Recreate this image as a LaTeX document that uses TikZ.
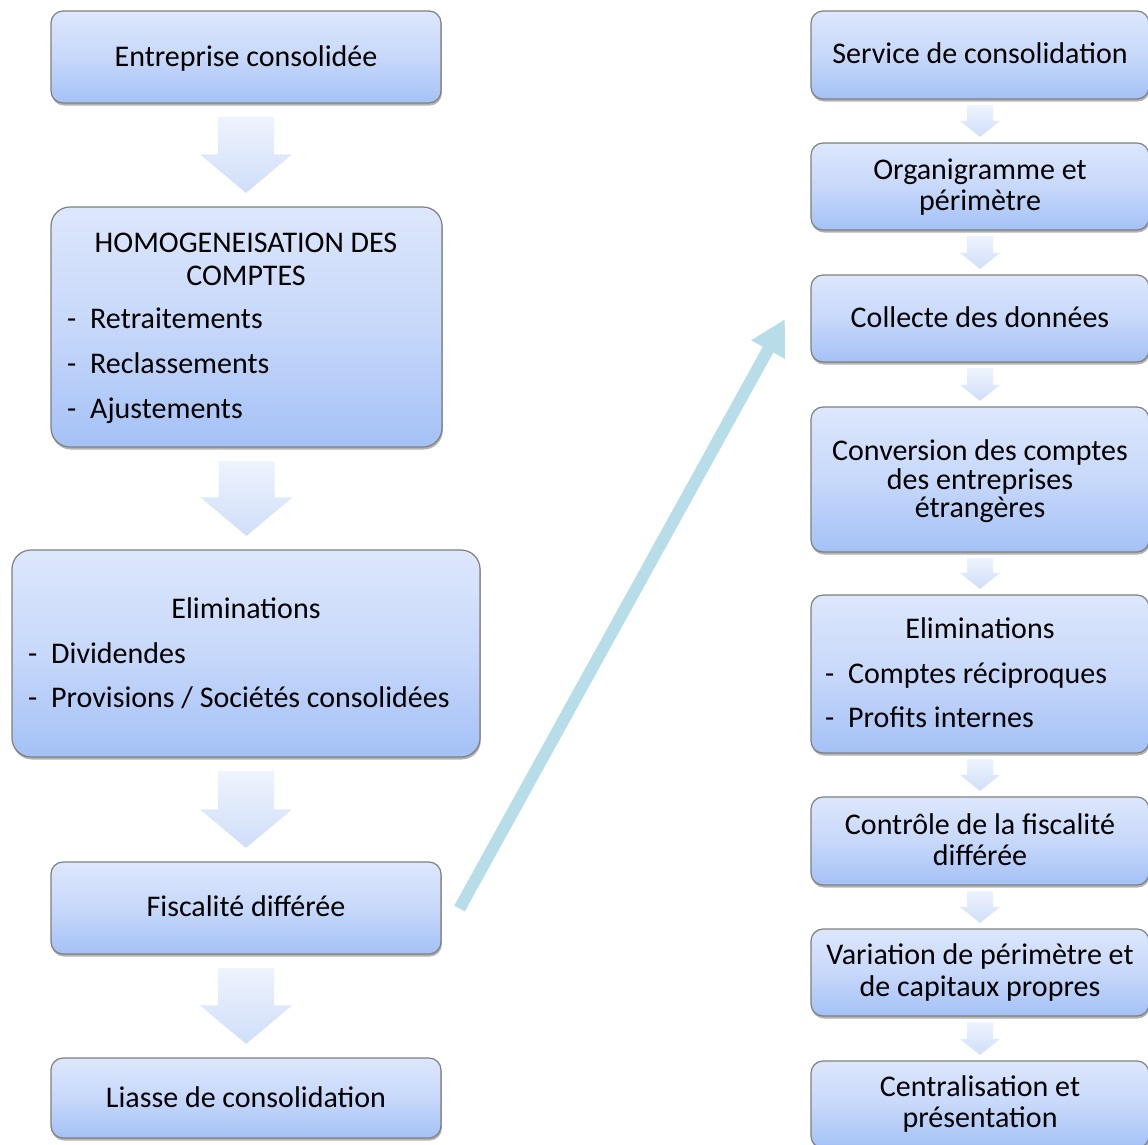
\documentclass[tikz,border=0pt]{standalone}
\usepackage{fontspec}
\setmainfont{Carlito}
\usetikzlibrary{calc,shadows,arrows.meta}

\definecolor{boxtop}{HTML}{DDE7FC}
\definecolor{boxmid}{HTML}{C7D8FA}
\definecolor{boxbot}{HTML}{A4C1F6}
\definecolor{boxline}{HTML}{7F7F7F}
\definecolor{arrtop}{HTML}{EEF3FD}
\definecolor{arrbot}{HTML}{D0DEF9}
\definecolor{linkblue}{HTML}{B7DDE8}

% hyphen lead-in for the list lines
\newcommand\dashlead{\makebox[23pt][l]{-}}

% down-pointing block arrow between two stacked boxes
% #1 style, #2 upper box, #3 lower box, #4 gap, #5 shaft half width, #6 head half width, #7 head length
\newcommand\flowarrow[7]{%
  \path[#1] let \p1=(#2.south), \p2=(#3.north) in
    (\x1-#5pt,\y1-#4pt) -- (\x1+#5pt,\y1-#4pt) -- (\x1+#5pt,\y2+#4pt+#7pt)
    -- (\x1+#6pt,\y2+#4pt+#7pt) -- (\x1,\y2+#4pt) -- (\x1-#6pt,\y2+#4pt+#7pt)
    -- (\x1-#5pt,\y2+#4pt+#7pt) -- cycle;}

\tikzset{
  stagebox/.style={draw=boxline, line width=1.2pt, rounded corners=12pt,
    top color=boxtop, bottom color=boxbot, middle color=boxmid,
    drop shadow={shadow xshift=0.8pt, shadow yshift=-2.5pt, opacity=0.3, fill=black},
    inner sep=0pt},
  bigbox/.style={stagebox, rounded corners=19pt},
  leftbox/.style={stagebox, minimum width=390},
  rightbox/.style={stagebox, minimum width=338},
  txt/.style={anchor=base, inner sep=0pt, font=\fontsize{30}{36}\selectfont},
  itemtxt/.style={txt, anchor=base west},
  blockarrow/.style={top color=arrtop, bottom color=arrbot, draw=none},
  link/.style={draw=linkblue, line width=12pt,
    -{Triangle[length=35pt, width=36pt]}}
}

\begin{document}
\begin{tikzpicture}[x=1pt, y=-1pt]
\useasboundingbox (0,0) rectangle (1148,1144);
\fill[white] (0,0) rectangle (1148,1144);

% left column
\node[leftbox, minimum height=92] (l1) at (246,57) {};
\node[bigbox, minimum width=391, minimum height=240] (l2) at (246.5,327) {};
\node[bigbox, minimum width=468, minimum height=207] (l3) at (246,653.5) {};
\node[leftbox, minimum height=92] (l4) at (246,908) {};
\node[leftbox, minimum height=80] (l5) at (246,1098) {};

\node[txt] (l1t) at (246,66) {Entreprise consolidée};
\node[txt] (l2t1) at (246,252) {HOMOGENEISATION DES};
\node[txt] (l2t2) at (246,285) {COMPTES};
\node[itemtxt] (l2i1) at (67,328) {\dashlead Retraitements};
\node[itemtxt] (l2i2) at (67,373) {\dashlead Reclassements};
\node[itemtxt] (l2i3) at (67,418) {\dashlead Ajustements};
\node[txt] (l3t) at (246,618) {Eliminations};
\node[itemtxt] (l3i1) at (28,663) {\dashlead Dividendes};
\node[itemtxt] (l3i2) at (28,707) {\dashlead Provisions / Sociétés consolidées};
\node[txt] (l4t) at (246,916) {Fiscalité différée};
\node[txt] (l5t) at (246,1107) {Liasse de consolidation};

\flowarrow{blockarrow}{l1}{l2}{13.5}{28}{46}{38.5}
\flowarrow{blockarrow}{l2}{l3}{13.5}{28}{46}{38.5}
\flowarrow{blockarrow}{l3}{l4}{13.5}{28}{46}{38.5}
\flowarrow{blockarrow}{l4}{l5}{13.5}{28}{46}{38.5}

% right column
\node[rightbox, minimum height=88] (r1) at (980,55) {};
\node[rightbox, minimum height=87] (r2) at (980,186.5) {};
\node[rightbox, minimum height=87] (r3) at (980,318.5) {};
\node[rightbox, minimum height=145] (r4) at (980,479.5) {};
\node[rightbox, minimum height=158] (r5) at (980,674) {};
\node[rightbox, minimum height=88] (r6) at (980,841) {};
\node[rightbox, minimum height=87] (r7) at (980,972.5) {};
\node[rightbox, minimum height=87] (r8) at (980,1104.5) {};

\node[txt] (r1t) at (980,63) {Service de consolidation};
\node[txt] (r2t1) at (980,179) {Organigramme et};
\node[txt] (r2t2) at (980,210) {périmètre};
\node[txt] (r3t) at (980,327) {Collecte des données};
\node[txt] (r4t1) at (980,460) {Conversion des comptes};
\node[txt] (r4t2) at (980,489) {des entreprises};
\node[txt] (r4t3) at (980,517) {étrangères};
\node[txt] (r5t) at (980,638) {Eliminations};
\node[itemtxt] (r5i1) at (825,683) {\dashlead Comptes réciproques};
\node[itemtxt] (r5i2) at (825,727) {\dashlead Profits internes};
\node[txt] (r6t1) at (980,834) {Contrôle de la fiscalité};
\node[txt] (r6t2) at (980,865) {différée};
\node[txt] (r7t1) at (980,964) {Variation de périmètre et};
\node[txt] (r7t2) at (980,996) {de capitaux propres};
\node[txt] (r8t1) at (980,1096) {Centralisation et};
\node[txt] (r8t2) at (980,1127) {présentation};

\flowarrow{blockarrow}{r1}{r2}{5.5}{13}{20}{16}
\flowarrow{blockarrow}{r2}{r3}{5.5}{13}{20}{16}
\flowarrow{blockarrow}{r3}{r4}{5.5}{13}{20}{16}
\flowarrow{blockarrow}{r4}{r5}{5.5}{13}{20}{16}
\flowarrow{blockarrow}{r5}{r6}{5.5}{13}{20}{16}
\flowarrow{blockarrow}{r6}{r7}{5.5}{13}{20}{16}
\flowarrow{blockarrow}{r7}{r8}{5.5}{13}{20}{16}

% link from the left flow to the right flow
\coordinate (linkstart) at (459.5,908.5);
\coordinate (linkend) at (785,319);
\draw[link] (linkstart) -- (linkend);
\end{tikzpicture}
\end{document}
